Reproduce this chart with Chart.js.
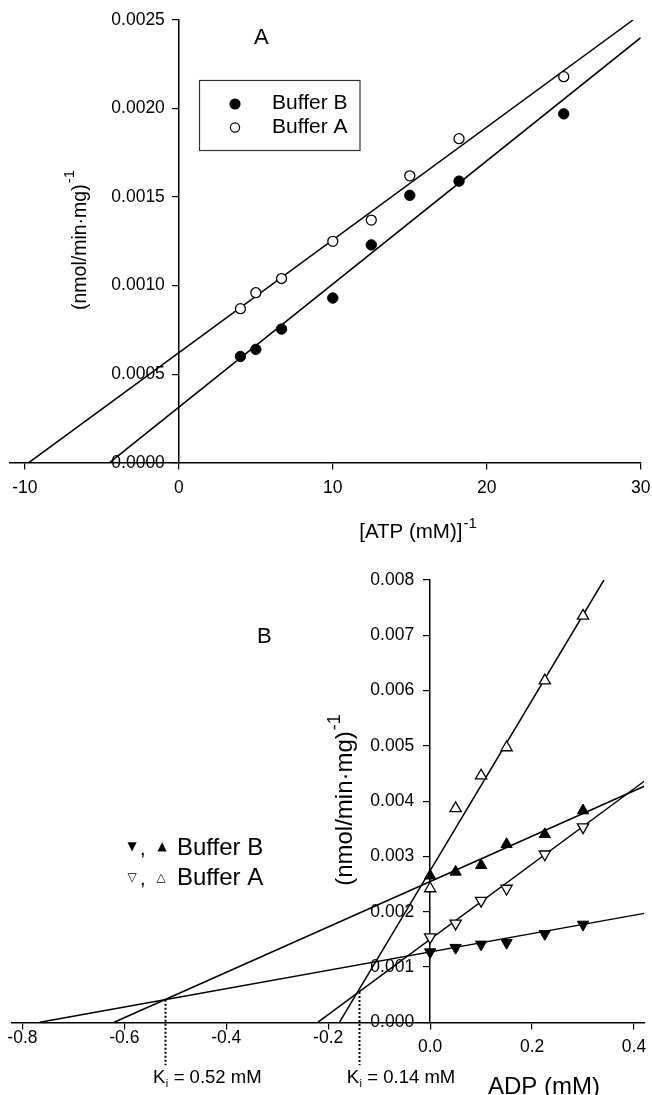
<!DOCTYPE html>
<html>
<head>
<meta charset="utf-8">
<script src="https://cdn.jsdelivr.net/npm/chart.js@4.4.1/dist/chart.umd.min.js"></script>
<style>
  html, body { margin: 0; padding: 0; background: #fff; }
  #wrap { position: relative; width: 652px; height: 1095px; overflow: hidden; }
  canvas { position: absolute; left: 0; }
  #chartA { top: 0; }
  #chartB { top: 548px; }
</style>
</head>
<body>
<div id="wrap">
  <canvas id="chartA" width="652" height="548"></canvas>
  <canvas id="chartB" width="652" height="547"></canvas>
</div>
<script>
const FONT = "'Liberation Sans', Arial, sans-serif";
const SYMBOL_FONT = "'DejaVu Sans', sans-serif";

// ---- Panel A: 1/v against 1/[ATP] ----
const atpInv = [4, 5, 6.67, 10, 12.5, 15, 18.2, 25];
const rateBufferB = [0.0006, 0.00064, 0.000755, 0.00093, 0.00123, 0.00151, 0.00159, 0.00197];
const rateBufferA = [0.00087, 0.00096, 0.00104, 0.00125, 0.00137, 0.00162, 0.00183, 0.00218];
// regression lines (start, end)
const fitBufferBX = [-4.5, 30];
const fitBufferBY = [0, 0.0024];
const fitBufferAX = [-9.75, 29.5];
const fitBufferAY = [0, 0.0025];
const ticksAX = [-10, 0, 10, 20, 30];
const ticksAY = [0, 0.0005, 0.001, 0.0015, 0.002, 0.0025];

// ---- Panel B: Dixon plot, 1/v against [ADP] ----
const adp = [0, 0.05, 0.1, 0.15, 0.225, 0.3];
const bufferBLow = [0.00127, 0.00135, 0.00141, 0.00144, 0.0016, 0.00177];    // filled down
const bufferBHigh = [0.00265, 0.00272, 0.00284, 0.00322, 0.0034, 0.00383];   // filled up
const bufferALow = [0.00154, 0.00179, 0.0022, 0.00242, 0.00304, 0.00353];    // open down
const bufferAHigh = [0.00242, 0.00387, 0.00446, 0.00497, 0.00618, 0.00735];  // open up
const fitBLowX = [-0.766, 0.42];
const fitBLowY = [0, 0.00197];
const fitBHighX = [-0.62, 0.42];
const fitBHighY = [0, 0.00427];
const fitALowX = [-0.2206, 0.42];
const fitALowY = [0, 0.00436];
const fitAHighX = [-0.178, 0.341];
const fitAHighY = [0, 0.008];
const kiValues = [0.52, 0.14];
const ticksBX = [-0.8, -0.6, -0.4, -0.2, 0, 0.2, 0.4];
const ticksBY = [0, 0.001, 0.002, 0.003, 0.004, 0.005, 0.006, 0.007, 0.008];

function toPoints(xs, ys) {
    return xs.map((x, i) => ({ x: x, y: ys[i] }));
}

// y of a straight fit line at x
function lineY(xs, ys, x) {
    return ys[0] + (ys[1] - ys[0]) * (x - xs[0]) / (xs[1] - xs[0]);
}

function fitLine(xs, ys) {
    return {
        data: toPoints(xs, ys),
        showLine: true,
        borderColor: '#000',
        borderWidth: 1.5,
        pointRadius: 0,
        order: 2
    };
}

function markers(xs, ys, style, filled, radius, rotation) {
    return {
        data: toPoints(xs, ys),
        showLine: false,
        pointStyle: style,
        rotation: rotation || 0,
        pointRadius: radius,
        pointBackgroundColor: filled ? '#000' : '#fff',
        pointBorderColor: '#000',
        pointBorderWidth: filled ? 1 : 1.3,
        order: 1
    };
}

// axes cross at zero; labels are drawn by the tickLabels plugin
function axis(min, max, tickValues, crossAt) {
    return {
        type: 'linear',
        min: min,
        max: max,
        position: crossAt,
        afterBuildTicks: s => { s.ticks = tickValues.map(v => ({ value: v })); },
        ticks: { display: false },
        grid: { drawOnChartArea: false, drawTicks: true, tickLength: 6, color: '#000', lineWidth: 1.2 },
        border: { color: '#000', width: 1.5 }
    };
}

// tick labels beside the zero-crossing axes
function tickLabels(xFmt, yFmt, yGap, xDrop) {
    return {
        id: 'tickLabels',
        afterDraw(chart) {
            const ctx = chart.ctx;
            const xs = chart.scales.x;
            const ys = chart.scales.y;
            const yAxisPx = xs.getPixelForValue(0);
            const xAxisPx = ys.getPixelForValue(0);
            ctx.save();
            ctx.fillStyle = '#000';
            ctx.font = '17.5px ' + FONT;
            ctx.textAlign = 'right';
            ctx.textBaseline = 'middle';
            ys.ticks.forEach(t => ctx.fillText(yFmt(t.value), yAxisPx - yGap, ys.getPixelForValue(t.value)));
            ctx.textAlign = 'center';
            xs.ticks.forEach(t => ctx.fillText(xFmt(t.value), xs.getPixelForValue(t.value), xAxisPx + xDrop(t.value)));
            ctx.restore();
        }
    };
}

// text with a raised "-1", optionally rotated for a vertical axis title
function drawWithSup(ctx, str, sup, x, y, size, supSize, rise, vertical) {
    ctx.save();
    ctx.translate(x, y);
    if (vertical) ctx.rotate(-Math.PI / 2);
    ctx.fillStyle = '#000';
    ctx.textBaseline = 'alphabetic';
    ctx.textAlign = 'left';
    ctx.font = size + 'px ' + FONT;
    const w = ctx.measureText(str).width;
    ctx.font = supSize + 'px ' + FONT;
    const sw = ctx.measureText(sup).width;
    const left = -(w + sw + 1) / 2;
    ctx.font = size + 'px ' + FONT;
    ctx.fillText(str, left, 0);
    ctx.font = supSize + 'px ' + FONT;
    ctx.fillText(sup, left + w + 1, -rise);
    ctx.restore();
}

function text(ctx, str, x, y, size, family, align, baseline) {
    ctx.font = size + 'px ' + (family || FONT);
    ctx.textAlign = align || 'left';
    ctx.textBaseline = baseline || 'alphabetic';
    ctx.fillStyle = '#000';
    ctx.fillText(str, x, y);
}

// panel letter, axis titles and the legend box of panel A
const panelADecor = {
    id: 'panelADecor',
    afterDraw(chart) {
        const ctx = chart.ctx;
        ctx.save();
        text(ctx, 'A', 254, 44, 22);
        drawWithSup(ctx, '(nmol/min\u00b7mg)', '-1', 86, 240, 19.5, 15, 12, true);
        drawWithSup(ctx, '[ATP (mM)]', '-1', 418, 537.5, 20.5, 15, 9.5, false);

        // legend
        ctx.strokeStyle = '#333';
        ctx.lineWidth = 1.2;
        ctx.strokeRect(199.5, 80.5, 160.5, 70);
        ctx.beginPath();
        ctx.arc(235, 104, 5.6, 0, Math.PI * 2);
        ctx.fillStyle = '#000';
        ctx.fill();
        ctx.beginPath();
        ctx.arc(235, 127.5, 4.6, 0, Math.PI * 2);
        ctx.fillStyle = '#fff';
        ctx.fill();
        ctx.strokeStyle = '#000';
        ctx.lineWidth = 1.2;
        ctx.stroke();
        text(ctx, 'Buffer B', 272, 108.5, 21);
        text(ctx, 'Buffer A', 272, 132.5, 21);
        ctx.restore();
    }
};

// Ki drop lines, labels, titles and legend of panel B
const panelBDecor = {
    id: 'panelBDecor',
    afterDatasetsDraw(chart) {
        const ctx = chart.ctx;
        const xs = chart.scales.x;
        const ys = chart.scales.y;
        const tops = [lineY(fitBLowX, fitBLowY, -kiValues[0]), lineY(fitALowX, fitALowY, -kiValues[1])];
        ctx.save();
        ctx.strokeStyle = '#000';
        ctx.lineWidth = 2;
        ctx.setLineDash([2, 2]);
        kiValues.forEach((ki, i) => {
            const px = Math.round(xs.getPixelForValue(-ki)) + 0.5;
            ctx.beginPath();
            ctx.moveTo(px, ys.getPixelForValue(tops[i]));
            ctx.lineTo(px, ys.getPixelForValue(0) + 43);
            ctx.stroke();
        });
        ctx.restore();
    },
    afterDraw(chart) {
        const ctx = chart.ctx;
        const xs = chart.scales.x;
        ctx.save();
        text(ctx, 'B', 257, 95, 22);
        drawWithSup(ctx, '(nmol/min\u00b7mg)', '-1', 352, 252, 24, 18, 12, true);
        text(ctx, 'ADP (mM)', 488, 546, 24);

        kiValues.forEach(ki => {
            const left = xs.getPixelForValue(-ki) - 12;
            text(ctx, 'K', left, 535, 18.5);
            text(ctx, 'i', left + 12.6, 539, 11);
            text(ctx, ' = ' + ki.toFixed(2) + ' mM', left + 15.4, 535, 18.5);
        });

        // legend
        text(ctx, '\u25bc', 132, 298.5, 12, SYMBOL_FONT, 'center', 'middle');
        text(ctx, ',', 140, 307, 20);
        text(ctx, '\u25b2', 162, 298.5, 12, SYMBOL_FONT, 'center', 'middle');
        text(ctx, 'Buffer B', 177, 307, 24);
        text(ctx, '\u25bd', 132, 329.5, 12, SYMBOL_FONT, 'center', 'middle');
        text(ctx, ',', 140, 337, 20);
        text(ctx, '\u25b3', 161, 329.5, 12, SYMBOL_FONT, 'center', 'middle');
        text(ctx, 'Buffer A', 177, 337, 24);
        ctx.restore();
    }
};

const commonOptions = {
    responsive: false,
    animation: false,
    devicePixelRatio: 1,
    plugins: { legend: { display: false }, tooltip: { enabled: false } }
};

new Chart(document.getElementById('chartA'), {
    type: 'scatter',
    data: {
        datasets: [
            fitLine(fitBufferBX, fitBufferBY),
            fitLine(fitBufferAX, fitBufferAY),
            markers(atpInv, rateBufferB, 'circle', true, 5.2),
            markers(atpInv, rateBufferA, 'circle', false, 5)
        ]
    },
    options: Object.assign({}, commonOptions, {
        layout: { padding: { left: 9.5, right: 11.3, top: 20, bottom: 85.3 } },
        scales: {
            x: axis(-11, 30, ticksAX, { y: 0 }),
            y: axis(0, 0.0025, ticksAY, { x: 0 })
        }
    }),
    plugins: [tickLabels(v => String(v), v => v.toFixed(4), 14, () => 25.6), panelADecor]
});

new Chart(document.getElementById('chartB'), {
    type: 'scatter',
    data: {
        datasets: [
            fitLine(fitBLowX, fitBLowY),
            fitLine(fitBHighX, fitBHighY),
            fitLine(fitALowX, fitALowY),
            fitLine(fitAHighX, fitAHighY),
            markers(adp, bufferBLow, 'triangle', true, 6.5, 180),
            markers(adp, bufferBHigh, 'triangle', true, 6.5),
            markers(adp, bufferALow, 'triangle', false, 6.5, 180),
            markers(adp, bufferAHigh, 'triangle', false, 6.5)
        ]
    },
    options: Object.assign({}, commonOptions, {
        layout: { padding: { left: 12.2, right: 3, top: 32, bottom: 72.7 } },
        scales: {
            x: axis(-0.82, 0.42, ticksBX, { y: 0 }),
            y: axis(0, 0.008, ticksBY, { x: 0 })
        }
    }),
    plugins: [tickLabels(v => v.toFixed(1), v => v.toFixed(3), 16, v => (v < 0 ? 16 : 25.3)), panelBDecor]
});
</script>
</body>
</html>
